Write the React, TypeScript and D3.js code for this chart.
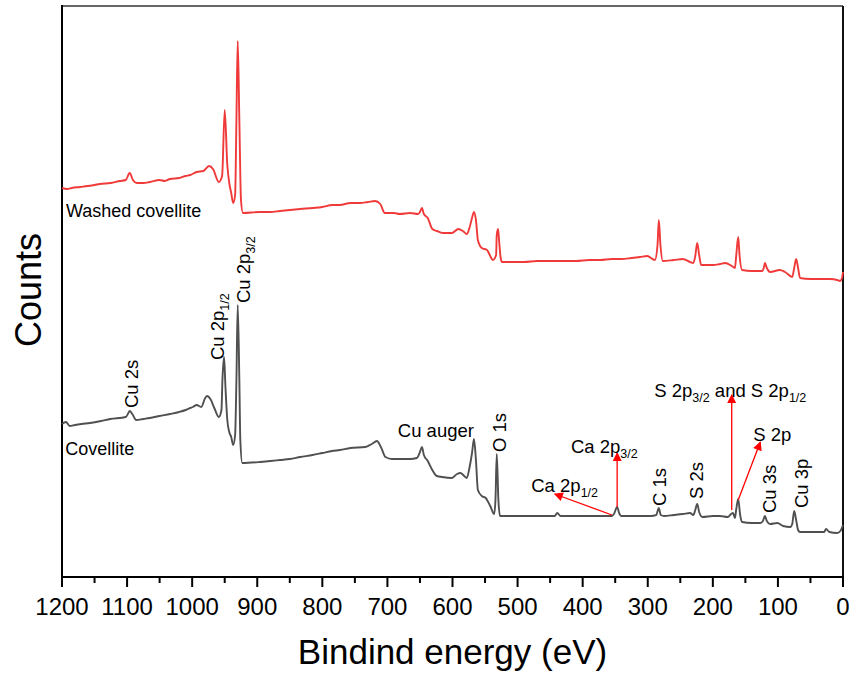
import React from 'react';
import * as d3 from 'd3';

// Washed covellite spectrum: [binding energy (eV), counts (a.u.)]
const washedSeries: [number, number][] = [
  [1200, 389], [1192, 388], [1185, 389], [1172, 390], [1160, 391], [1150, 392], [1142, 393], [1125, 394], [1111, 396], [1102, 397],
  [1096, 404], [1091, 397], [1085, 394], [1075, 394], [1065, 395], [1050, 397], [1042, 396], [1034, 398], [1020, 399],
  [1010, 401], [1003, 402], [993, 405], [983, 406], [974, 411], [968, 408], [959, 395], [954, 401], [950, 467],
  [946, 412], [943, 394], [940, 384], [937, 374], [934, 382], [932, 457], [930, 536], [927.5, 457],
  [925, 377], [922, 364], [896, 365], [880, 365], [865, 366], [850, 367], [834, 368], [815, 369], [800, 370], [785, 372], [773, 372], [757, 374],
  [742, 374], [730, 375], [719, 376], [711, 373], [704, 364], [690, 364], [681, 363], [665, 364], [653, 363],
  [650, 365], [647, 369], [644, 363], [638, 359], [631, 348], [624, 346], [615, 344], [601, 344],
  [591, 348], [584, 346], [578, 343], [574, 349], [570, 359], [567, 365], [564, 357], [561, 337],
  [555, 329], [547, 327], [542, 321], [538, 317], [533, 322], [532, 342], [530, 348], [528.5, 337],
  [526, 319], [524, 315], [505, 315], [490, 315], [470, 316], [450, 316], [430, 316], [410, 316], [390, 317], [373, 317], [355, 318], [340, 318], [325, 319], [312, 320],
  [301, 321], [289, 317], [285, 332], [283, 357], [280.5, 332], [277, 316], [260, 317], [246, 318],
  [235, 315], [230, 314], [227, 321], [224, 334], [221, 322], [218, 312], [200, 312], [189, 313],
  [181, 314], [171, 311], [166, 309], [164, 322], [161, 340], [159, 322], [155, 307], [140, 306],
  [124, 306], [121, 311], [120, 314], [117, 309], [112, 305], [97, 307], [89, 305], [78, 300],
  [75, 309], [72, 318], [69, 309], [66, 299], [50, 298], [35, 298], [20, 298], [9, 297],
  [4.6, 296], [1.5, 299], [0, 305],
];

// Covellite spectrum: [binding energy (eV), counts (a.u.)]
const covelliteSeries: [number, number][] = [
  [1200, 153], [1194, 155], [1188, 151], [1180, 152], [1170, 153], [1157, 154], [1140, 156], [1126, 158],
  [1102, 160], [1098, 164], [1096, 166], [1092, 163], [1086, 157], [1075, 158], [1065, 159], [1050, 161],
  [1034, 163], [1020, 165], [1010, 167], [1003, 169], [999, 170], [993, 172], [986, 170], [980, 179], [977, 181],
  [972, 178], [966, 169], [959, 160], [955, 167], [953.5, 197], [951, 220], [949, 192], [946, 157],
  [943, 145], [940, 140], [937, 132], [934, 142], [932, 197], [930, 272], [927.5, 197], [926, 137],
  [923, 114], [896, 115], [880, 116], [865, 117], [850, 118], [834, 120], [815, 122], [800, 124], [785, 126], [773, 127], [757, 129], [734, 130],
  [724, 133], [716, 136], [710, 130], [703, 120], [693, 118], [665, 118], [655, 119], [650, 125],
  [647, 130], [644, 122], [638, 116], [631, 107], [624, 101], [616, 100], [601, 99], [593, 103],
  [588, 104], [582, 101], [578, 99], [574, 109], [570, 124], [567, 138], [564, 117], [561, 87],
  [555, 81], [549, 79], [542, 71], [536, 63], [534, 77], [532, 123], [529.5, 77], [527, 61],
  [500, 61], [481, 61], [460, 61], [443, 61], [439, 64], [434, 61], [415, 61], [400, 61], [373, 61], [360, 61], [355, 61], [352, 63],
  [347, 70], [344, 64], [341, 61], [325, 61], [312, 61], [295, 61], [287, 62], [283, 69], [280, 62], [275, 61],
  [260, 62], [246, 63], [235, 64], [230, 62], [227, 67], [224, 73], [221, 65], [216, 60], [200, 61], [189, 61],
  [177, 60], [172, 63], [169, 64], [166, 59], [164, 68], [161, 78], [158, 62], [155, 55],
  [140, 54], [127, 54], [123, 56], [120, 61], [117, 56], [112, 53], [101, 54], [92, 51],
  [81, 50], [78, 53], [75, 66], [72, 57], [69, 47], [66, 45], [55, 45], [43, 45], [29, 45],
  [26, 48], [21, 45], [9, 44], [4, 46], [0, 52],
];

const majorTicks = [1200, 1100, 1000, 900, 800, 700, 600, 500, 400, 300, 200, 100, 0];
const minorTicks = [1150, 1050, 950, 850, 750, 650, 550, 450, 350, 250, 150, 50];

// Annotation arrows: [fromEnergy, fromCounts, toEnergy, toCounts]
const arrows: [number, number, number, number][] = [
  [355, 62, 443, 83],
  [347, 70, 347, 124],
  [171, 67, 171, 182],
  [161, 77, 127, 135],
];

type Part = { t: string; sub?: boolean };
type Label = { parts: Part[]; e: number; c: number; rotate: boolean };

const labels: Label[] = [
  { parts: [{ t: 'Washed covellite' }], e: 1194, c: 360, rotate: false },
  { parts: [{ t: 'Covellite' }], e: 1195, c: 122, rotate: false },
  { parts: [{ t: 'Cu auger' }], e: 684, c: 140, rotate: false },
  { parts: [{ t: 'Ca 2p' }, { t: '3/2', sub: true }], e: 418, c: 124, rotate: false },
  { parts: [{ t: 'Ca 2p' }, { t: '1/2', sub: true }], e: 479, c: 85, rotate: false },
  { parts: [{ t: 'S 2p' }, { t: '3/2', sub: true }, { t: ' and S 2p' }, { t: '1/2', sub: true }], e: 290, c: 180, rotate: false },
  { parts: [{ t: 'S 2p' }], e: 138, c: 136, rotate: false },
  { parts: [{ t: 'Cu 2s' }], e: 1083, c: 169, rotate: true },
  { parts: [{ t: 'Cu 2p' }, { t: '1/2', sub: true }], e: 951, c: 217, rotate: true },
  { parts: [{ t: 'Cu 2p' }, { t: '3/2', sub: true }], e: 911, c: 274, rotate: true },
  { parts: [{ t: 'O 1s' }], e: 518, c: 125, rotate: true },
  { parts: [{ t: 'C 1s' }], e: 272, c: 71, rotate: true },
  { parts: [{ t: 'S 2s' }], e: 215, c: 78, rotate: true },
  { parts: [{ t: 'Cu 3s' }], e: 103, c: 64, rotate: true },
  { parts: [{ t: 'Cu 3p' }], e: 54, c: 69, rotate: true },
];

const FONT = '"Liberation Sans", Arial, Helvetica, sans-serif';

export default function App() {
  const W = 854;
  const H = 675;
  const left = 62, right = 843, top = 6, bottom = 577;
  const x = d3.scaleLinear().domain([1200, 0]).range([left, right]);
  const y = d3.scaleLinear().domain([0, 571]).range([bottom, top]);
  const line = d3
    .line<[number, number]>()
    .x((d) => x(d[0]))
    .y((d) => y(d[1]))
    .curve(d3.curveMonotoneX);

  const renderParts = (parts: Part[], size: number) => {
    let shifted = false;
    return parts.map((p, i) => {
      let dy = 0;
      if (p.sub && !shifted) { dy = 5; shifted = true; }
      else if (!p.sub && shifted) { dy = -5; shifted = false; }
      return (
        <tspan key={i} dy={dy} fontSize={p.sub ? 12.5 : size}>
          {p.t}
        </tspan>
      );
    });
  };

  return (
    <svg
      width={W}
      height={H}
      style={{ position: 'absolute', left: 0, top: 0, display: 'block', background: '#fff' }}
      fontFamily={FONT}
    >
      <defs>
        <marker
          id="arrowHead"
          viewBox="0 0 10 10"
          refX="9"
          refY="5"
          markerWidth="15"
          markerHeight="9"
          markerUnits="userSpaceOnUse"
          orient="auto"
        >
          <path d="M0,0 L10,5 L0,10 Z" fill="#ff0000" />
        </marker>
      </defs>

      {/* frame */}
      <line x1={left} y1={top} x2={right} y2={top} stroke="#666" strokeWidth={2} />
      <line x1={right} y1={top} x2={right} y2={bottom} stroke="#111" strokeWidth={2} />
      <line x1={left} y1={top - 1} x2={left} y2={bottom + 1} stroke="#000" strokeWidth={2} />
      <line x1={left - 1} y1={bottom} x2={right + 1} y2={bottom} stroke="#000" strokeWidth={2} />

      {/* ticks */}
      {majorTicks.map((t) => (
        <g key={'M' + t}>
          <line x1={x(t)} x2={x(t)} y1={bottom} y2={bottom + 10} stroke="#000" strokeWidth={2} />
          <text x={x(t)} y={615} textAnchor="middle" fontSize={24} fill="#000">
            {t}
          </text>
        </g>
      ))}
      {minorTicks.map((t) => (
        <line key={'m' + t} x1={x(t)} x2={x(t)} y1={bottom} y2={bottom + 6} stroke="#000" strokeWidth={2} />
      ))}

      {/* axis titles */}
      <text x={(left + right) / 2} y={664} textAnchor="middle" fontSize={35} fill="#000">
        Bindind energy (eV)
      </text>
      <text transform={`translate(41,290) rotate(-90)`} textAnchor="middle" fontSize={36} fill="#000">
        Counts
      </text>

      {/* spectra */}
      <path d={line(washedSeries) || ''} fill="none" stroke="#f03a3a" strokeWidth={1.9} strokeLinejoin="round" />
      <path d={line(covelliteSeries) || ''} fill="none" stroke="#505050" strokeWidth={1.9} strokeLinejoin="round" />

      {/* arrows */}
      {arrows.map((a, i) => (
        <line
          key={'a' + i}
          x1={x(a[0])}
          y1={y(a[1])}
          x2={x(a[2])}
          y2={y(a[3])}
          stroke="#ff0000"
          strokeWidth={1.3}
          markerEnd="url(#arrowHead)"
        />
      ))}

      {/* labels */}
      {labels.map((l, i) =>
        l.rotate ? (
          <text key={'l' + i} transform={`translate(${x(l.e)},${y(l.c)}) rotate(-90)`} fill="#000">
            {renderParts(l.parts, 18.5)}
          </text>
        ) : (
          <text key={'l' + i} x={x(l.e)} y={y(l.c)} fill="#000">
            {renderParts(l.parts, i < 2 ? 18 : 18.5)}
          </text>
        )
      )}
    </svg>
  );
}
